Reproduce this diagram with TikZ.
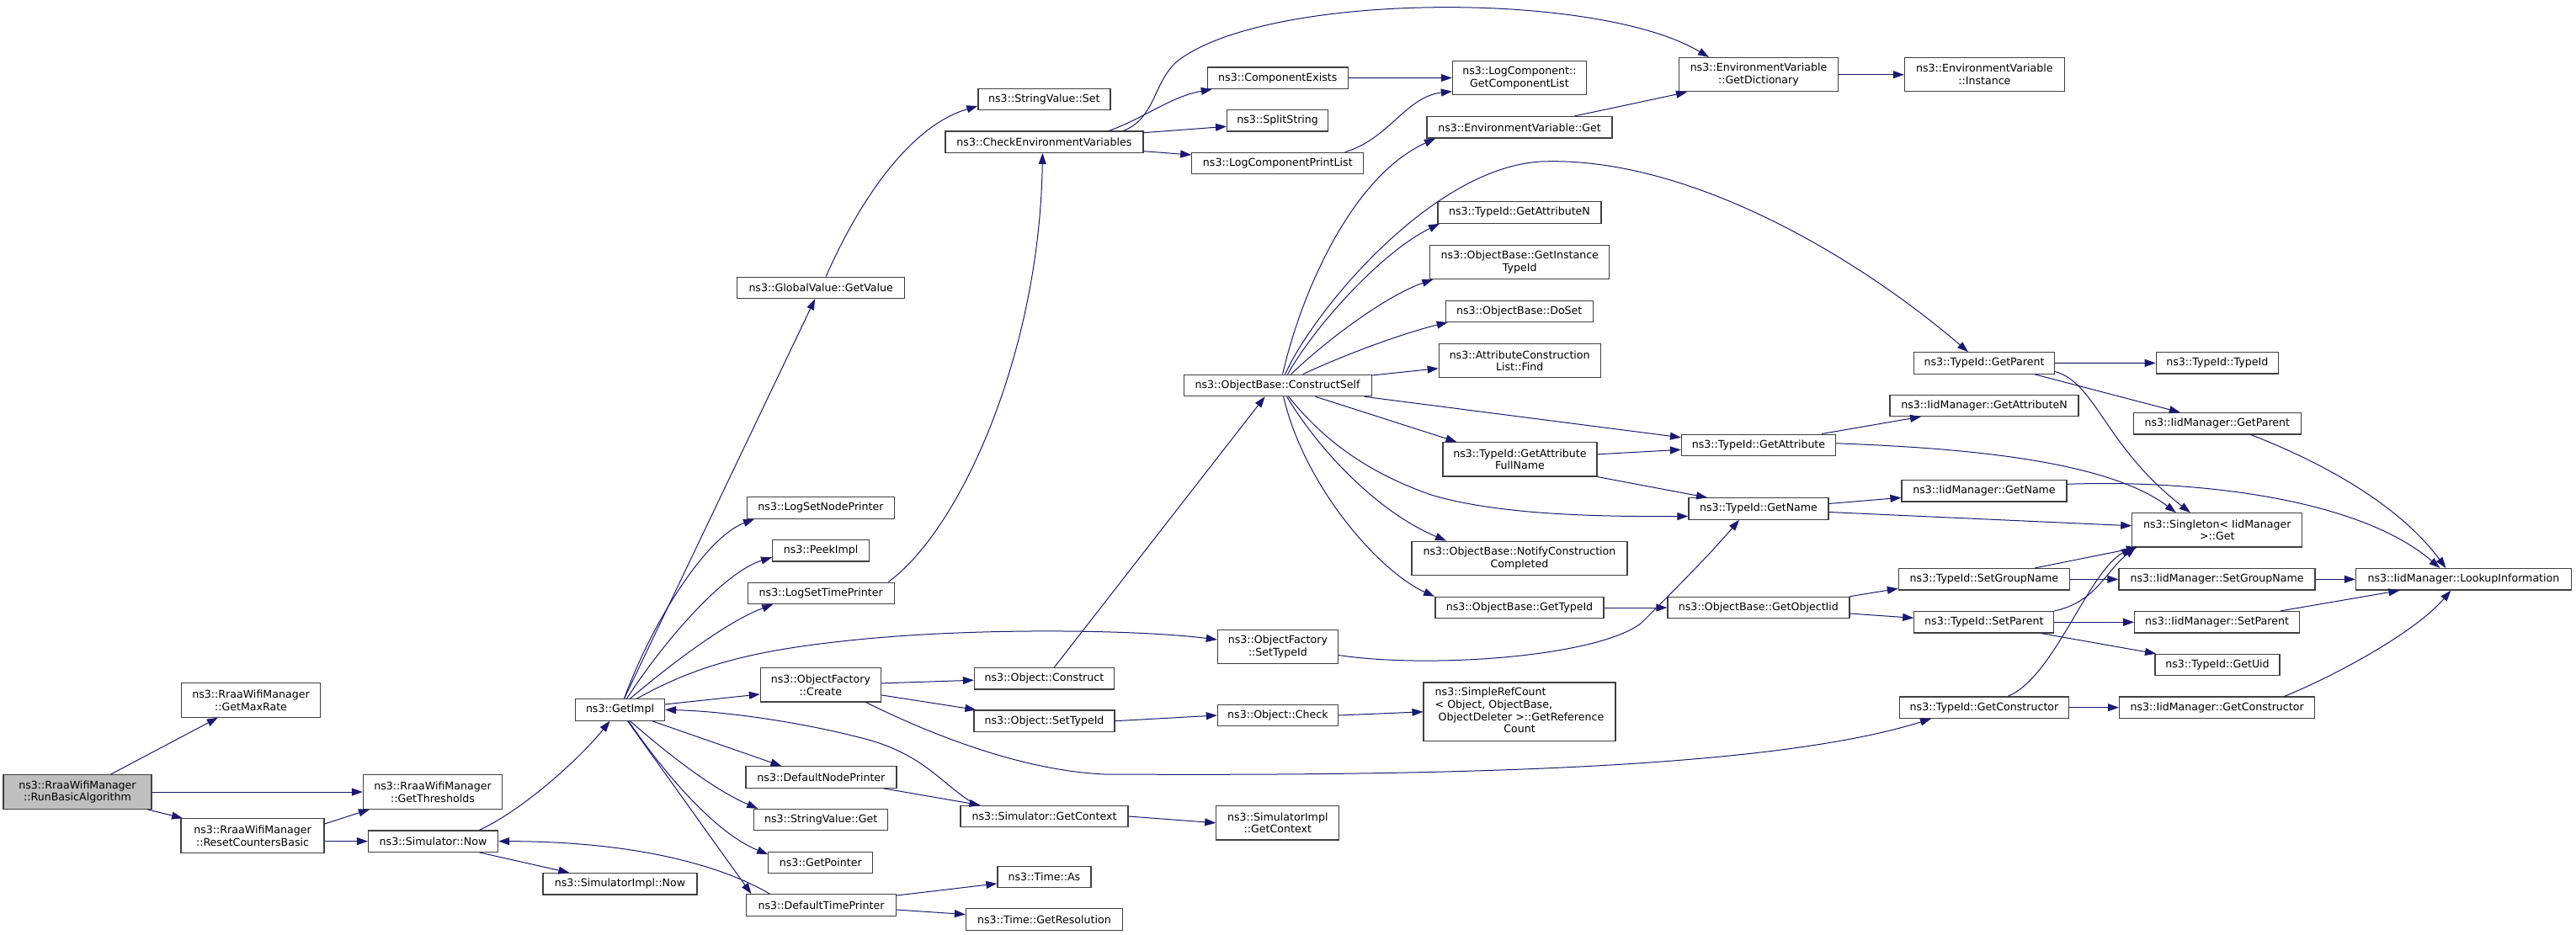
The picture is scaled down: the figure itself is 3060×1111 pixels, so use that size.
\documentclass[tikz,border=0pt]{standalone}
\usepackage{fontspec}
\setmainfont{DejaVu Sans}
\usetikzlibrary{arrows.meta}
\definecolor{edgeblue}{HTML}{191970}
\definecolor{boxline}{HTML}{404040}
\definecolor{rootfill}{HTML}{BFBFBF}

\begin{document}
\begin{tikzpicture}[x=1pt,y=-1pt,
	fn/.style={draw=boxline, fill=white, line width=1.2pt, inner xsep=11pt, inner ysep=1pt,
		minimum height=25.4pt, align=center, font=\fontsize{12.6}{14.8}\selectfont},
	fn2/.style={fn, minimum height=40.3pt},
	root/.style={fn2, fill=rootfill},
	call/.style={draw=edgeblue, line width=1pt, -{Triangle[length=13pt,width=9pt]}}]
\useasboundingbox (0,0) rectangle (3060,1111);

\node[root, minimum width=176] (run) at (92,941) {ns3::RraaWifiManager\\::RunBasicAlgorithm};
\node[fn2, minimum width=165] (maxrate) at (298,832) {ns3::RraaWifiManager\\::GetMaxRate};
\node[fn2, minimum width=165] (thresh) at (514,941) {ns3::RraaWifiManager\\::GetThresholds};
\node[fn2, minimum width=170] (reset) at (300,993) {ns3::RraaWifiManager\\::ResetCountersBasic};
\node[fn, minimum width=154] (simnow) at (514.5,999.6) {ns3::Simulator::Now};
\node[fn, minimum width=183] (simimplnow) at (736.4,1050.3) {ns3::SimulatorImpl::Now};
\node[fn, minimum width=106] (getimpl) at (736.5,843.4) {ns3::GetImpl};

\node[fn, minimum width=199] (getvalue) at (975.2,341.8) {ns3::GlobalValue::GetValue};
\node[fn, minimum width=175] (setnodeprinter) at (975,603.5) {ns3::LogSetNodePrinter};
\node[fn, minimum width=115] (peekimpl) at (975.1,654.2) {ns3::PeekImpl};
\node[fn, minimum width=174] (settimeprinter) at (975.2,704.8) {ns3::LogSetTimePrinter};
\node[fn2, minimum width=143] (create) at (974.9,813.9) {ns3::ObjectFactory\\::Create};
\node[fn, minimum width=179] (defnodeprinter) at (975.4,923.5) {ns3::DefaultNodePrinter};
\node[fn, minimum width=159] (strget) at (975.2,974.1) {ns3::StringValue::Get};
\node[fn, minimum width=124] (getpointer) at (974.8,1025.1) {ns3::GetPointer};
\node[fn, minimum width=178] (deftimeprinter) at (975.5,1075.5) {ns3::DefaultTimePrinter};

\node[fn, minimum width=157] (strset) at (1240.4,118) {ns3::StringValue::Set};
\node[fn, minimum width=235] (checkenv) at (1240.4,168.7) {ns3::CheckEnvironmentVariables};
\node[fn, minimum width=166] (construct) at (1240.4,806.2) {ns3::Object::Construct};
\node[fn, minimum width=167] (objsettypeid) at (1240.5,856.7) {ns3::Object::SetTypeId};
\node[fn, minimum width=199] (simctx) at (1240.5,970) {ns3::Simulator::GetContext};
\node[fn, minimum width=111] (timeas) at (1240.4,1041.9) {ns3::Time::As};
\node[fn, minimum width=186] (timeres) at (1240.4,1092.5) {ns3::Time::GetResolution};

\node[fn, minimum width=167] (compexists) at (1517.8,92.7) {ns3::ComponentExists};
\node[fn, minimum width=120] (splitstring) at (1517.6,143.3) {ns3::SplitString};
\node[fn, minimum width=204] (printlist) at (1517.8,194) {ns3::LogComponentPrintList};
\node[fn, minimum width=223] (constructself) at (1517.6,458) {ns3::ObjectBase::ConstructSelf};
\node[fn2, minimum width=143] (ofsettypeid) at (1517.9,768.5) {ns3::ObjectFactory\\::SetTypeId};
\node[fn, minimum width=143] (check) at (1517.9,850) {ns3::Object::Check};
\node[fn2, minimum width=146] (simimplctx) at (1517.8,977.8) {ns3::SimulatorImpl\\::GetContext};

\node[fn2, minimum width=159] (getcomplist) at (1804.9,92.5) {ns3::LogComponent::\\GetComponentList};
\node[fn, minimum width=220] (envget) at (1805,151.3) {ns3::EnvironmentVariable::Get};
\node[fn, minimum width=194] (attrn) at (1805,252.5) {ns3::TypeId::GetAttributeN};
\node[fn2, minimum width=213] (instancetypeid) at (1805.3,311.3) {ns3::ObjectBase::GetInstance\\TypeId};
\node[fn, minimum width=175] (doset) at (1804.7,369.8) {ns3::ObjectBase::DoSet};
\node[fn2, minimum width=192] (find) at (1805.2,428.7) {ns3::AttributeConstruction\\List::Find};
\node[fn2, minimum width=183] (fullname) at (1805.4,545.8) {ns3::TypeId::GetAttribute\\FullName};
\node[fn2, minimum width=256] (notify) at (1805,663.3) {ns3::ObjectBase::NotifyConstruction\\Completed};
\node[fn, minimum width=200] (obgettypeid) at (1805,722) {ns3::ObjectBase::GetTypeId};
\node[fn, minimum width=228, minimum height=69.7] (refcount) at (1805,845.8)
	{\begin{tabular}{@{}l@{}}ns3::SimpleRefCount\\< Object, ObjectBase,\\\ ObjectDeleter >::GetReference\\\multicolumn{1}{@{}c@{}}{Count}\end{tabular}};

\node[fn2, minimum width=189] (envdict) at (2089,88.7) {ns3::EnvironmentVariable\\::GetDictionary};
\node[fn, minimum width=183] (getattr) at (2089,528.8) {ns3::TypeId::GetAttribute};
\node[fn, minimum width=166] (getname) at (2089,604.5) {ns3::TypeId::GetName};
\node[fn, minimum width=216] (getobjiid) at (2088.9,722) {ns3::ObjectBase::GetObjectIid};

\node[fn2, minimum width=190] (envinst) at (2357.4,88.7) {ns3::EnvironmentVariable\\::Instance};
\node[fn, minimum width=167] (getparent) at (2357,431.5) {ns3::TypeId::GetParent};
\node[fn, minimum width=224] (iidattrn) at (2357,481.8) {ns3::IidManager::GetAttributeN};
\node[fn, minimum width=196] (iidname) at (2357,583.3) {ns3::IidManager::GetName};
\node[fn, minimum width=203] (setgroup) at (2356.9,688.3) {ns3::TypeId::SetGroupName};
\node[fn, minimum width=166] (setparent) at (2356.8,739.3) {ns3::TypeId::SetParent};
\node[fn, minimum width=201] (getctor) at (2357,840.7) {ns3::TypeId::GetConstructor};

\node[fn, minimum width=145] (typeidtypeid) at (2633.8,431.3) {ns3::TypeId::TypeId};
\node[fn, minimum width=199] (iidparent) at (2633.8,503.3) {ns3::IidManager::GetParent};
\node[fn2, minimum width=202] (singleton) at (2633.8,629.8) {ns3::Singleton< IidManager\\ >::Get};
\node[fn, minimum width=233] (iidsetgroup) at (2633.5,688.3) {ns3::IidManager::SetGroupName};
\node[fn, minimum width=196] (iidsetparent) at (2633.6,739.3) {ns3::IidManager::SetParent};
\node[fn, minimum width=148] (getuid) at (2634,790) {ns3::TypeId::GetUid};
\node[fn, minimum width=232] (iidctor) at (2633.6,840.7) {ns3::IidManager::GetConstructor};
\node[fn, minimum width=256] (lookup) at (2926.4,688.3) {ns3::IidManager::LookupInformation};

\draw[call] (run) -- (maxrate);
\draw[call] (run) -- (thresh);
\draw[call] (run) -- (reset);
\draw[call] ([yshift=14]reset.east) -- ([xshift=-75]thresh.south);
\draw[call] (reset.east |- simnow.west) -- (simnow.west);
\draw[call] ([xshift=55]simnow.north) .. controls (622,962) and (690,900) .. ([xshift=-12]getimpl.south);
\draw[call] ([xshift=55]simnow.south) -- ([xshift=-60]simimplnow.north);

\draw[call] ([xshift=5]getimpl.north) -- ([xshift=-7]getvalue.south);
\draw[call] ([xshift=5]getimpl.north) .. controls (770,750) and (835,640) .. ([xshift=-79]setnodeprinter.south);
\draw[call] ([xshift=8]getimpl.north) .. controls (790,760) and (860,680) .. ([yshift=-8]peekimpl.west);
\draw[call] ([xshift=12]getimpl.north) .. controls (790,795) and (860,740) .. ([xshift=-57]settimeprinter.south);
\draw[call] ([xshift=20]getimpl.north) .. controls (820,795) and (880,775) .. (1000,762)
	.. controls (1150,745) and (1350,748) .. ([yshift=8.5]ofsettypeid.west);
\draw[call] ([yshift=6.5]getimpl.east) -- ([yshift=-11]create.west);
\draw[call] ([xshift=-80]simctx.north) .. controls (1120,935) and (1100,895) .. (1020,876)
	.. controls (950,858) and (860,845) .. (getimpl.east);
\draw[call] ([xshift=38]getimpl.south) -- ([xshift=-47]defnodeprinter.north);
\draw[call] ([xshift=12]getimpl.south) .. controls (775,880) and (840,935) .. ([xshift=-75]strget.north);
\draw[call] ([xshift=10]getimpl.south) .. controls (790,920) and (850,990) .. ([yshift=10]getpointer.west);
\draw[call] ([xshift=9]getimpl.south) -- ([xshift=-83]deftimeprinter.north);
\draw[call] ([xshift=-61]deftimeprinter.north) .. controls (860,1030) and (760,1000) .. (simnow.east);

\draw[call] ([yshift=2]create.east) -- ([yshift=-2]construct.west);
\draw[call] ([yshift=-12]create.east) -- ([xshift=3]objsettypeid.north west);
\draw[call] ([xshift=54]create.south) .. controls (1080,860) and (1200,915) .. (1312,920)
	.. controls (1700,922) and (2100,915) .. ([xshift=-63]getctor.south);
\draw[call] ([xshift=12]construct.north) -- ([xshift=-15]constructself.south);
\draw[call] (objsettypeid.east) -- (check.west);
\draw[call] (check.east) -- (refcount.west);
\draw[call] ([xshift=74]defnodeprinter.south) -- ([xshift=-76]simctx.north);
\draw[call] (simctx.east) -- (simimplctx.west);
\draw[call] ([yshift=11.5]deftimeprinter.east) -- ([yshift=-8]timeas.west);
\draw[call] ([yshift=-5.5]deftimeprinter.east) -- ([yshift=6]timeres.west);
\draw[call] ([xshift=80]settimeprinter.north) .. controls (1140,630) and (1235,420) .. ([xshift=-2]checkenv.south);
\draw[call] ([xshift=6]getvalue.north) .. controls (1020,240) and (1080,150) .. ([yshift=-8]strset.west);

\draw[call] ([xshift=94]checkenv.north) .. controls (1375,140) and (1370,90) .. (1405,68)
	.. controls (1520,-10) and (1900,-10) .. ([xshift=-59]envdict.north);
\draw[call] ([xshift=77]checkenv.north) .. controls (1360,140) and (1390,115) .. ([xshift=-78]compexists.south);
\draw[call] ([yshift=11]checkenv.east) -- ([yshift=-7]splitstring.west);
\draw[call] ([yshift=-11]checkenv.east) -- ([yshift=10]printlist.west);
\draw[call] (compexists) -- (getcomplist);
\draw[call] ([xshift=80]printlist.north) .. controls (1650,165) and (1670,115) .. ([yshift=-16]getcomplist.west);
\draw[call] ([xshift=65]envget.north) -- ([xshift=-85]envdict.south);
\draw[call] (envdict) -- (envinst);

\draw[call] ([xshift=6]constructself.north) .. controls (1545,350) and (1605,210) .. ([xshift=-100]envget.south);
\draw[call] ([xshift=9]constructself.north) .. controls (1560,370) and (1700,200) .. (1830,192)
	.. controls (2000,185) and (2200,300) .. ([xshift=-19]getparent.north);
\draw[call] ([xshift=12]constructself.north) .. controls (1560,390) and (1640,300) .. ([xshift=-95]attrn.south);
\draw[call] ([xshift=16]constructself.north) .. controls (1580,400) and (1650,350) .. ([xshift=-103]instancetypeid.south);
\draw[call] ([xshift=30]constructself.north) .. controls (1600,420) and (1670,395) .. ([xshift=-85]doset.south);
\draw[call] ([yshift=12]constructself.east) -- ([yshift=-9]find.west);
\draw[call] ([xshift=-9]constructself.south east) -- ([yshift=9]getattr.west);
\draw[call] ([xshift=45]constructself.south) -- ([xshift=-75]fullname.north);
\draw[call] ([xshift=13]constructself.south) .. controls (1570,520) and (1620,560) .. (1700,588)
	.. controls (1780,612) and (1900,614) .. ([yshift=-9]getname.west);
\draw[call] ([xshift=11]constructself.south) .. controls (1570,540) and (1640,610) .. ([xshift=-87]notify.north);
\draw[call] ([xshift=7]constructself.south) .. controls (1550,580) and (1640,680) .. ([xshift=-101]obgettypeid.north);

\draw[call] ([yshift=6]fullname.east) -- ([yshift=-5.5]getattr.west);
\draw[call] (fullname.south east) -- ([xshift=-61]getname.north);
\draw[call] ([xshift=75]getattr.north) -- ([xshift=-75]iidattrn.south);
\draw[call] ([yshift=2]getattr.east) .. controls (2320,532) and (2500,545) .. ([xshift=-49]singleton.north);
\draw[call] ([yshift=6]getname.east) -- ([yshift=-8]iidname.west);
\draw[call] ([yshift=-4]getname.east) -- ([yshift=5]singleton.west);
\draw[call] ([yshift=-10]ofsettypeid.east) .. controls (1700,795) and (1900,780) .. (1950,740)
	.. controls (1990,700) and (2030,660) .. ([xshift=-23]getname.south);
\draw[call] (obgettypeid) -- (getobjiid);
\draw[call] (getobjiid.north east) -- ([yshift=-11]setgroup.west);
\draw[call] ([yshift=-7]getobjiid.east) -- ([yshift=5]setparent.west);

\draw[call] (getparent) -- (typeidtypeid);
\draw[call] ([xshift=60]getparent.south) -- ([xshift=-44]iidparent.north);
\draw[call] ([yshift=-10]getparent.east) .. controls (2490,455) and (2500,530) .. ([xshift=-32]singleton.north);
\draw[call] ([yshift=8]iidname.east) .. controls (2600,570) and (2800,590) .. ([xshift=-28]lookup.north);
\draw[call] ([xshift=60]setgroup.north) -- ([xshift=-95]singleton.south);
\draw[call] (setgroup) -- (iidsetgroup);
\draw[call] (setparent.north east) .. controls (2490,715) and (2500,680) .. ([xshift=-97]singleton.south);
\draw[call] (setparent) -- (iidsetparent);
\draw[call] ([xshift=68]setparent.south) -- ([xshift=-73]getuid.north);
\draw[call] ([xshift=28]getctor.north) .. controls (2440,805) and (2480,680) .. ([xshift=-101]singleton.south);
\draw[call] (getctor) -- (iidctor);

\draw[call] ([xshift=40]iidparent.south) .. controls (2760,550) and (2850,600) .. ([xshift=-21]lookup.north);
\draw[call] (iidsetgroup) -- (lookup);
\draw[call] ([xshift=75]iidsetparent.north) -- ([xshift=-76]lookup.south);
\draw[call] ([xshift=80]iidctor.north) .. controls (2780,800) and (2870,750) .. ([xshift=-15]lookup.south);
\end{tikzpicture}
\end{document}
